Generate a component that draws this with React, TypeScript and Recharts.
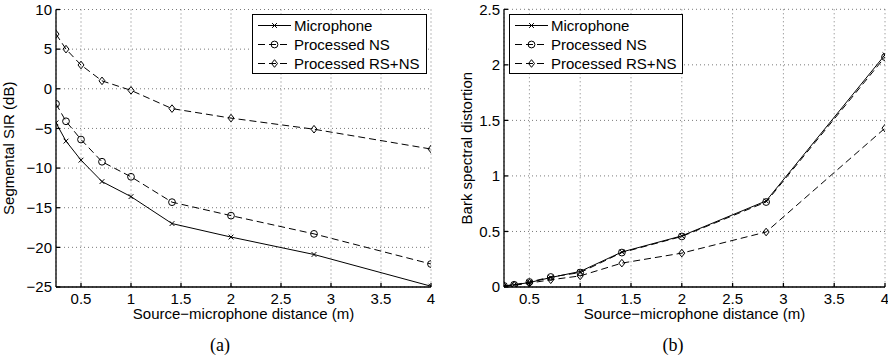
import {
  LineChart,
  Line,
  XAxis,
  YAxis,
  CartesianGrid,
  Legend,
  Label,
} from "recharts";

const distances = [0.25, 0.35, 0.5, 0.71, 1, 1.41, 2, 2.83, 4];

const sirMic = [-4.3, -6.6, -9.0, -11.7, -13.6, -17.0, -18.7, -20.9, -24.9];
const sirNS = [-1.9, -4.1, -6.4, -9.2, -11.1, -14.3, -16.0, -18.3, -22.1];
const sirRSNS = [6.9, 5.0, 3.0, 1.0, -0.2, -2.5, -3.7, -5.1, -7.6];

const bsdMic = [0.01, 0.02, 0.04, 0.085, 0.14, 0.315, 0.46, 0.775, 2.09];
const bsdNS = [0.01, 0.02, 0.045, 0.09, 0.13, 0.31, 0.455, 0.765, 2.07];
const bsdRSNS = [0.005, 0.015, 0.035, 0.065, 0.1, 0.215, 0.305, 0.495, 1.43];

const xTicks = [0.5, 1, 1.5, 2, 2.5, 3, 3.5, 4];
const sirTicks = [-25, -20, -15, -10, -5, 0, 5, 10];
const bsdTicks = [0, 0.5, 1, 1.5, 2, 2.5];

const seriesNames = ["Microphone", "Processed NS", "Processed RS+NS"];

const FONT = "'Liberation Sans', Arial, Helvetica, sans-serif";
const FS = 15;

const series = [
  { key: "mic", name: seriesNames[0], dash: undefined, marker: "x" },
  { key: "ns", name: seriesNames[1], dash: "7 4", marker: "o" },
  { key: "rsns", name: seriesNames[2], dash: "7 4", marker: "d" },
];

const sirData = distances.map((d, i) => ({
  d,
  mic: sirMic[i],
  ns: sirNS[i],
  rsns: sirRSNS[i],
}));

const bsdData = distances.map((d, i) => ({
  d,
  mic: bsdMic[i],
  ns: bsdNS[i],
  rsns: bsdRSNS[i],
}));

const fmt = (v: number) => (v < 0 ? `\u2212${Math.abs(v)}` : `${v}`);

const Marker = ({ cx, cy, kind }: any) => {
  if (cx == null || cy == null) return null;
  if (kind === "x") {
    const s = 2.4;
    return (
      <g stroke="#000" strokeWidth={1}>
        <line x1={cx - s} y1={cy - s} x2={cx + s} y2={cy + s} />
        <line x1={cx - s} y1={cy + s} x2={cx + s} y2={cy - s} />
      </g>
    );
  }
  if (kind === "o") {
    return <circle cx={cx} cy={cy} r={3.4} fill="none" stroke="#000" strokeWidth={1} />;
  }
  return (
    <polygon
      points={`${cx},${cy - 3.8} ${cx + 3},${cy} ${cx},${cy + 3.8} ${cx - 3},${cy}`}
      fill="none"
      stroke="#000"
      strokeWidth={1}
    />
  );
};

const LegendBox = ({ width }: { width: number }) => (
  <div
    style={{
      border: "1px solid #000",
      background: "#fff",
      width,
      boxSizing: "border-box",
      paddingTop: 1,
      fontFamily: FONT,
      fontSize: FS,
      color: "#000",
    }}
  >
    {series.map((s) => (
      <div key={s.key} style={{ display: "flex", alignItems: "center", height: 19 }}>
        <svg width={41} height={19} style={{ flex: "none" }}>
          <line x1={5} x2={38} y1={9.5} y2={9.5} stroke="#000" strokeDasharray={s.dash} />
          <Marker cx={21.5} cy={9.5} kind={s.marker} />
        </svg>
        <span style={{ whiteSpace: "nowrap" }}>{s.name}</span>
      </div>
    ))}
  </div>
);

const YTitle = ({ viewBox, value, dx }: any) => {
  const cx = viewBox.x + dx;
  const cy = viewBox.y + viewBox.height / 2;
  return (
    <text
      x={cx}
      y={cy}
      transform={`rotate(-90 ${cx} ${cy})`}
      textAnchor="middle"
      dominantBaseline="central"
      fontSize={FS}
      fontFamily={FONT}
      fill="#000"
    >
      {value}
    </text>
  );
};

type PanelProps = {
  data: any[];
  yDomain: [number, number];
  yTicks: number[];
  yTitle: string;
  yTitleDx: number;
  marginTop: number;
  marginRight: number;
  legendLeft: number;
  legendWidth: number;
};

const Panel = ({
  data,
  yDomain,
  yTicks,
  yTitle,
  yTitleDx,
  marginTop,
  marginRight,
  legendLeft,
  legendWidth,
}: PanelProps) => (
  <LineChart
    width={440}
    height={322}
    data={data}
    margin={{ top: marginTop, right: marginRight, left: 0, bottom: 0 }}
    style={{ fontFamily: FONT, overflow: "visible" }}
  >
    <CartesianGrid stroke="#7a7a7a" strokeDasharray="1 3" />
    <XAxis
      dataKey="d"
      type="number"
      domain={[0.25, 4]}
      ticks={xTicks}
      allowDataOverflow
      height={35}
      tickSize={-4}
      tickMargin={10}
      tick={{ fill: "#000", fontSize: FS }}
      stroke="#000"
      strokeWidth={1.3}
      interval={0}
    >
      <Label
        value={"Source\u2212microphone distance (m)"}
        position="insideBottom"
        offset={3}
        fill="#000"
        fontSize={FS}
      />
    </XAxis>
    <XAxis
      xAxisId="top"
      orientation="top"
      dataKey="d"
      type="number"
      domain={[0.25, 4]}
      ticks={xTicks}
      allowDataOverflow
      height={0}
      tickSize={-4}
      tick={false}
      stroke="#000"
      strokeWidth={1.3}
      interval={0}
    />
    <YAxis
      type="number"
      domain={yDomain}
      ticks={yTicks}
      allowDataOverflow
      width={56}
      tickSize={-4}
      tickMargin={8}
      tickFormatter={fmt}
      tick={{ fill: "#000", fontSize: FS }}
      stroke="#000"
      strokeWidth={1.3}
      interval={0}
    >
      <Label content={<YTitle value={yTitle} dx={yTitleDx} />} />
    </YAxis>
    <YAxis
      yAxisId="right"
      orientation="right"
      type="number"
      domain={yDomain}
      ticks={yTicks}
      allowDataOverflow
      width={0}
      tickSize={-4}
      tick={false}
      stroke="#000"
      strokeWidth={1.3}
      interval={0}
    />
    {series.map((s) => (
      <Line
        key={s.key}
        dataKey={s.key}
        name={s.name}
        type="linear"
        stroke="#000"
        strokeWidth={1}
        strokeDasharray={s.dash}
        isAnimationActive={false}
        dot={(p: any) => <Marker key={`${s.key}-${p.index}`} cx={p.cx} cy={p.cy} kind={s.marker} />}
        activeDot={false}
      />
    ))}
    <Legend
      layout="vertical"
      align="center"
      verticalAlign="middle"
      wrapperStyle={{ left: legendLeft, top: 14, width: legendWidth }}
      content={() => <LegendBox width={legendWidth} />}
    />
  </LineChart>
);

export default function App() {
  return (
    <div style={{ position: "absolute", left: 0, top: 0, width: 888, height: 359, background: "#fff" }}>
      <div style={{ position: "absolute", left: 0, top: 0 }}>
        <Panel
          data={sirData}
          yDomain={[-25, 10]}
          yTicks={sirTicks}
          yTitle="Segmental SIR (dB)"
          yTitleDx={8}
          marginTop={9.5}
          marginRight={9}
          legendLeft={252}
          legendWidth={175}
        />
      </div>
      <div style={{ position: "absolute", left: 448, top: 0 }}>
        <Panel
          data={bsdData}
          yDomain={[0, 2.5]}
          yTicks={bsdTicks}
          yTitle="Bark spectral distortion"
          yTitleDx={19}
          marginTop={9.3}
          marginRight={3}
          legendLeft={61}
          legendWidth={174}
        />
      </div>
      <div
        style={{
          position: "absolute",
          left: 170,
          width: 100,
          top: 335,
          textAlign: "center",
          fontFamily: "'Liberation Serif', 'Times New Roman', serif",
          fontSize: 18,
          lineHeight: "20px",
        }}
      >
        (a)
      </div>
      <div
        style={{
          position: "absolute",
          left: 623,
          width: 100,
          top: 335,
          textAlign: "center",
          fontFamily: "'Liberation Serif', 'Times New Roman', serif",
          fontSize: 18,
          lineHeight: "20px",
        }}
      >
        (b)
      </div>
    </div>
  );
}
